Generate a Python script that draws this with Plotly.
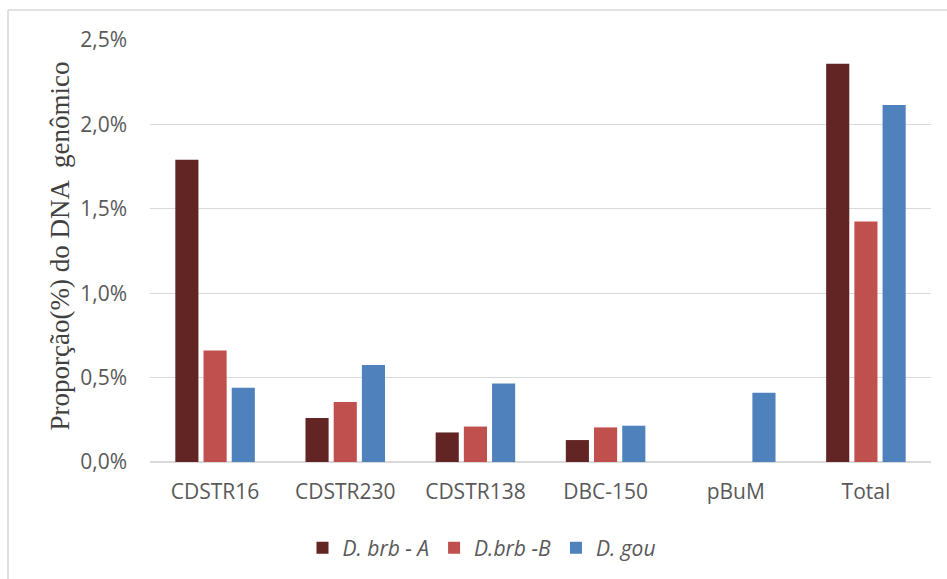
import plotly.graph_objects as go

# Proporção do DNA genômico ocupada por cada família de DNA satélite
categorias = ["CDSTR16", "CDSTR230", "CDSTR138", "DBC-150", "pBuM", "Total"]
brb_a = [1.79, 0.26, 0.175, 0.13, None, 2.36]
brb_b = [0.66, 0.355, 0.21, 0.205, None, 1.425]
gou = [0.44, 0.575, 0.465, 0.215, 0.41, 2.115]
nomes = ["<i>D. brb - A</i>", "<i>D.brb -B</i>", "<i>D. gou</i>"]
cores = ["#632523", "#C0504D", "#4F81BD"]
yticks = [0, 0.5, 1.0, 1.5, 2.0, 2.5]
yticklabels = [f"{v:.1f}".replace(".", ",") + "%" for v in yticks]

W, H = 947, 579
L, R, T, B = 150, 16, 40, 116
pw, ph = W - L - R, H - T - B

def px_x(x):
    return (x - L) / pw

def px_y(y):
    return (H - B - y) / ph

fig = go.Figure()
for nome, serie, cor in zip(nomes, [brb_a, brb_b, gou], cores):
    fig.add_trace(go.Bar(x=categorias, y=serie, name=nome,
                         marker=dict(color=cor, line=dict(width=0))))

tick_font = dict(family="Open Sans, Noto Sans, sans-serif", size=21, color="#595959")

fig.update_layout(
    width=W, height=H,
    margin=dict(l=L, r=R, t=T, b=B),
    paper_bgcolor="white", plot_bgcolor="white",
    barmode="group", bargap=0.35, bargroupgap=0.18,
    showlegend=True,
    legend=dict(orientation="h", x=px_x(482), xanchor="center",
                y=px_y(548), yanchor="middle",
                font=dict(family="Open Sans, Noto Sans, sans-serif", size=21, color="#595959"),
                itemwidth=30, traceorder="normal"),
    xaxis=dict(showgrid=False, showline=False, ticks="", tickfont=tick_font,
               ticklabelstandoff=15),
    yaxis=dict(range=[0, 2.5], tickvals=yticks, ticktext=yticklabels,
               showgrid=True, gridcolor="#d9d9d9", gridwidth=1.3,
               zeroline=True, zerolinecolor="#d9d9d9", zerolinewidth=1.6,
               showline=False, ticks="", tickfont=tick_font, ticklabelstandoff=22),
    annotations=[dict(text="Proporção(%) do DNA  genômico", textangle=-90,
                      xref="paper", yref="paper", x=px_x(60), y=px_y(247),
                      xanchor="center", yanchor="middle", showarrow=False,
                      font=dict(family="Liberation Serif, Times New Roman, serif",
                                size=27, color="#404040"))],
    shapes=[
        # moldura do gráfico
        dict(type="line", xref="paper", yref="paper",
             x0=px_x(8), x1=px_x(8), y0=px_y(10), y1=px_y(600),
             line=dict(color="#d9d9d9", width=1.6)),
        dict(type="line", xref="paper", yref="paper",
             x0=px_x(8), x1=px_x(960), y0=px_y(10), y1=px_y(10),
             line=dict(color="#d9d9d9", width=1.6)),
    ],
)

fig.write_html("out.html")
